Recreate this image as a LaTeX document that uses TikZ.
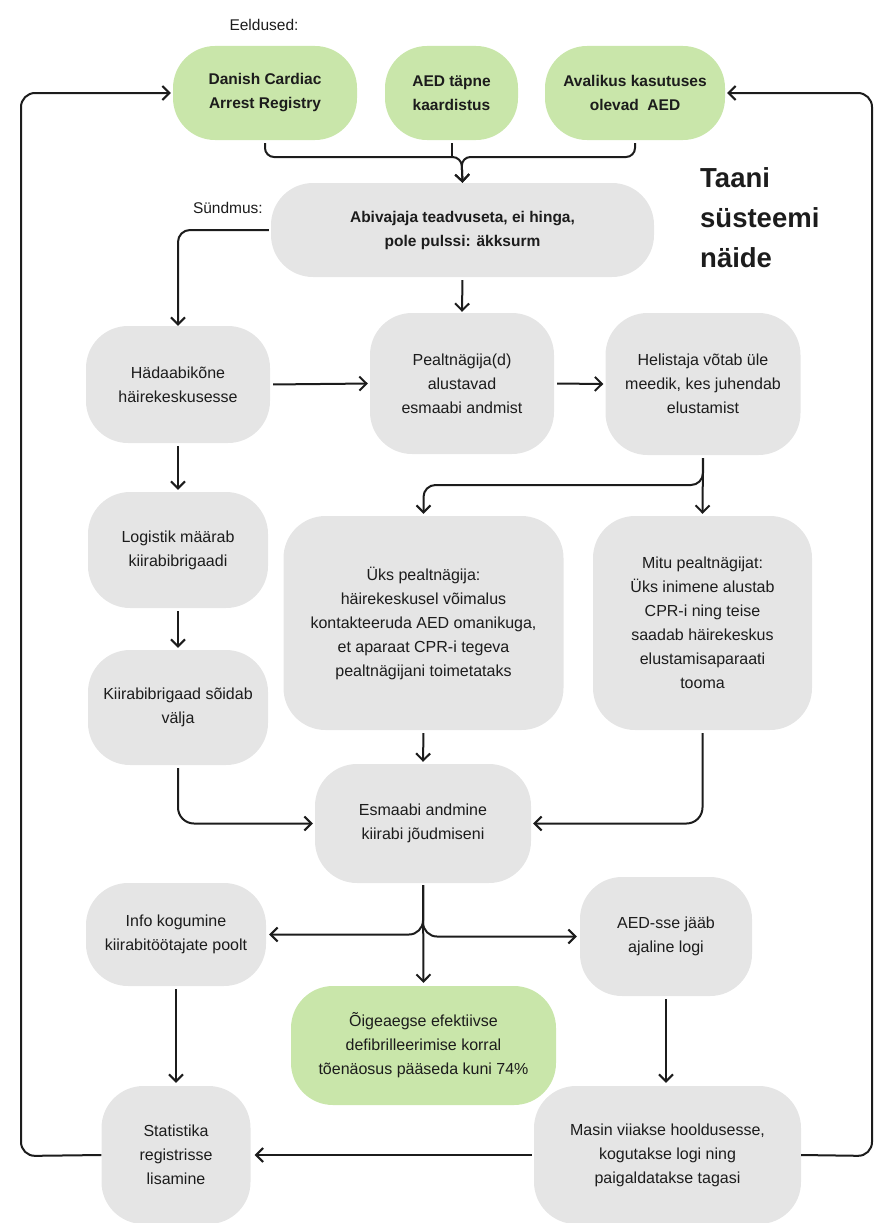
\documentclass[tikz,border=0pt]{standalone}
\usepackage{fontspec}
\setmainfont{Liberation Sans}
\usetikzlibrary{arrows.meta,calc}
\definecolor{boxgreen}{RGB}{201,230,170}
\definecolor{boxgray}{RGB}{229,229,229}
\definecolor{ink}{RGB}{28,28,28}
\tikzset{
  card/.style={rounded corners=42pt, draw=none, align=center, text=ink,
    inner sep=0pt, font=\fontsize{16}{24}\selectfont},
  greencard/.style={card, fill=boxgreen},
  graycard/.style={card, fill=boxgray},
  boldtxt/.style={font=\fontsize{15.5}{24}\selectfont\bfseries},
  label/.style={text=ink, font=\fontsize{15.5}{20}\selectfont, inner sep=0pt},
  flow/.style={draw=ink, line width=2pt, rounded corners=12pt,
    -{Straight Barb[length=7pt,width=14pt,line width=2pt]}},
  plain/.style={draw=ink, line width=2pt, rounded corners=12pt},
}
\begin{document}
\begin{tikzpicture}[x=1pt,y=-1pt]
\useasboundingbox (0,0) rectangle (874,1223);

% headings
\node[label] (eeldused) at (264,25) {Eeldused:};
\node[label, anchor=east] (syndmus) at (263,208) {Sündmus:};
\node[text=ink, align=left, anchor=west, inner sep=0pt,
  font=\fontsize{27.5}{40}\selectfont\bfseries] (title) at (700,218)
  {Taani\\süsteemi\\näide};

% prerequisites
\node[greencard, boldtxt, minimum width=184pt, minimum height=94pt] (danish) at (265,93) {Danish Cardiac\\Arrest Registry};
\node[greencard, boldtxt, minimum width=133pt, minimum height=94pt] (aedmap) at (451.5,93) {AED täpne\\kaardistus};
\node[greencard, boldtxt, minimum width=180pt, minimum height=94pt] (avalik) at (635,93) {Avalikus kasutuses\\olevad\ \ AED};

% event
\node[graycard, boldtxt, minimum width=383pt, minimum height=94pt] (abi) at (462.5,230) {Abivajaja teadvuseta, ei hinga,\\pole pulssi: äkksurm};

% response chain
\node[graycard, minimum width=184pt, minimum height=117pt] (hada) at (178,384.5) {Hädaabikõne\\häirekeskusesse};
\node[graycard, minimum width=184pt, minimum height=141pt] (pealt) at (462,383.5) {Pealtnägija(d)\\alustavad\\esmaabi andmist};
\node[graycard, minimum width=195pt, minimum height=142pt] (heli) at (703,384) {Helistaja võtab üle\\meedik, kes juhendab\\elustamist};
\node[graycard, minimum width=180pt, minimum height=116pt] (logi) at (178,550) {Logistik määrab\\kiirabibrigaadi};
\node[graycard, minimum width=180pt, minimum height=115pt] (kiir) at (178,707.5) {Kiirabibrigaad sõidab\\välja};
\node[graycard, minimum width=280pt, minimum height=214pt] (yks) at (423.5,623) {Üks pealtnägija:\\häirekeskusel võimalus\\kontakteeruda AED omanikuga,\\et aparaat CPR-i tegeva\\pealtnägijani toimetataks};
\node[graycard, minimum width=219pt, minimum height=214pt] (mitu) at (702.5,623) {Mitu pealtnägijat:\\Üks inimene alustab\\CPR-i ning teise\\saadab häirekeskus\\elustamisaparaati\\tooma};
\node[graycard, minimum width=216pt, minimum height=119pt] (esma) at (423,823.5) {Esmaabi andmine\\kiirabi jõudmiseni};
\node[graycard, minimum width=180pt, minimum height=103pt] (info) at (176,934.5) {Info kogumine\\kiirabitöötajate poolt};
\node[graycard, minimum width=172pt, minimum height=119pt] (aeds) at (666,936.5) {AED-sse jääb\\ajaline logi};
\node[greencard, minimum width=265pt, minimum height=119pt] (oige) at (423.5,1045.5) {Õigeaegse efektiivse\\defibrilleerimise korral\\tõenäosus pääseda kuni 74\%};
\node[graycard, minimum width=149pt, minimum height=138pt] (stat) at (176,1155) {Statistika\\registrisse\\lisamine};
\node[graycard, minimum width=267pt, minimum height=138pt] (masin) at (667.5,1155) {Masin viiakse hooldusesse,\\kogutakse logi ning\\paigaldatakse tagasi};

% junction points and loop corners
\coordinate (join) at (461.5,157);
\coordinate (split) at (703,485);
\coordinate (lb) at (21,1156);
\coordinate (lt) at (21,93);
\coordinate (rb) at (872,1156);
\coordinate (rt) at (872,93);

% prerequisites merge into the event
\draw[flow, rounded corners=9pt, shorten <=3pt] (danish.south) |- (join) -- (abi.north);
\draw[flow, rounded corners=9pt, shorten <=3pt] (avalik.south) |- (join) -- (abi.north);
\draw[plain, shorten <=3pt] (aedmap.south) -- (aedmap.south |- join);

% event and call chain
\draw[flow, shorten <=2pt] (abi.west) -| (hada.north);
\draw[flow, shorten <=3pt, shorten >=1pt] (abi.south) -- (pealt.north);
\draw[flow, shorten <=3pt, shorten >=2pt] (hada.east) -- (pealt.west);
\draw[flow, shorten <=3pt, shorten >=2pt] (pealt.east) -- (heli.west);
\draw[flow, shorten <=3pt, shorten >=2pt] (heli.south) |- (yks.north |- split) -- (yks.north);
\draw[flow, shorten <=3pt, shorten >=2pt] (heli.south) -- (mitu.north);
\draw[flow, shorten <=3pt, shorten >=2pt] (hada.south) -- (logi.north);
\draw[flow, shorten <=3pt, shorten >=2pt] (logi.south) -- (kiir.north);
\draw[flow, shorten <=3pt, shorten >=2pt] (yks.south) -- (esma.north);
\draw[flow, rounded corners=16pt, shorten <=3pt, shorten >=2pt] (kiir.south) |- (esma.west);
\draw[flow, rounded corners=16pt, shorten <=3pt, shorten >=2pt] (mitu.south) |- (esma.east);

% after first aid
\draw[flow, rounded corners=14pt, shorten <=2pt, shorten >=3pt] (esma.south) |- (info.east);
\draw[flow, rounded corners=14pt, shorten <=2pt, shorten >=3pt] (esma.south) |- (aeds.west);
\draw[flow, shorten <=2pt, shorten >=3pt] (esma.south) -- (oige.north);
\draw[flow, shorten <=3pt, shorten >=3pt] (info.south) -- (stat.north);
\draw[flow, shorten <=3pt, shorten >=3pt] (aeds.south) -- (aeds.south |- masin.north);
\draw[flow, shorten <=2pt, shorten >=4pt] (masin.west) -- (stat.east);

% feedback loops to the prerequisites
\draw[flow, rounded corners=14pt, shorten >=2pt] (stat.west) -- (lb) -- (lt) -- (danish.west);
\draw[flow, rounded corners=14pt, shorten >=2pt] (masin.east) -- (rb) -- (rt) -- (avalik.east);
\end{tikzpicture}
\end{document}
